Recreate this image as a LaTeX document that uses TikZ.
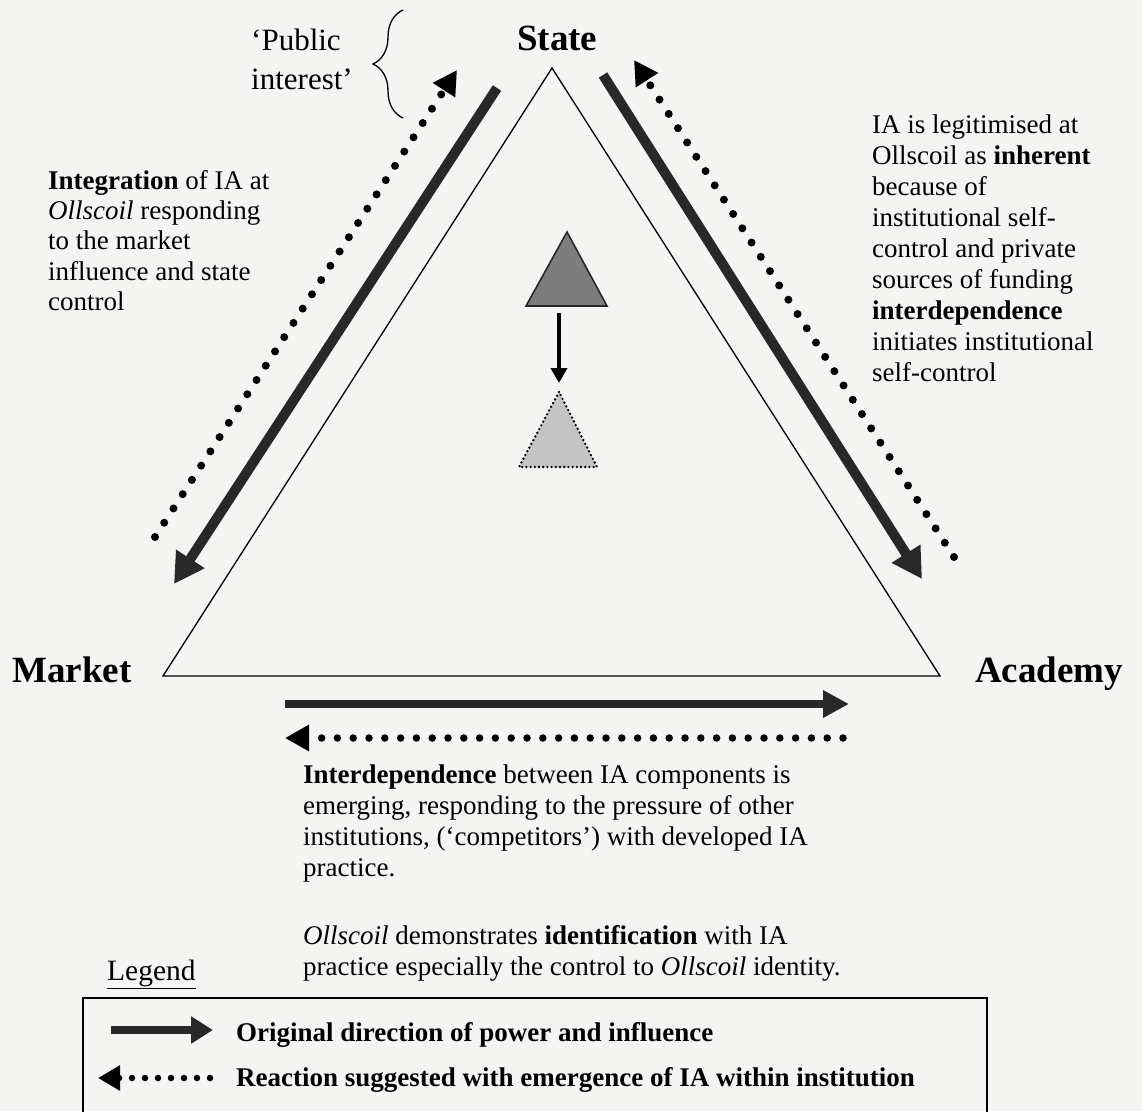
\documentclass[tikz,border=0pt]{standalone}
\usepackage{fontspec}
\setmainfont{Liberation Serif}
\usetikzlibrary{arrows.meta,decorations.pathreplacing}
\definecolor{paper}{RGB}{244,244,243}
\definecolor{ink}{RGB}{40,40,40}
\definecolor{darktri}{RGB}{125,125,125}
\definecolor{lighttri}{RGB}{196,196,196}

\begin{document}
\begin{tikzpicture}[x=1pt,y=-1pt,
  body/.style={font=\fontsize{27}{31}\selectfont, inner sep=0pt, align=left, anchor=north west},
  headlabel/.style={font=\fontsize{37}{42}\selectfont\bfseries, inner sep=0pt, anchor=base west},
  legtext/.style={font=\fontsize{27}{31}\selectfont\bfseries, inner sep=0pt, anchor=base west},
  power/.style={draw=ink, line width=10pt, -{Triangle[width=32pt,length=30pt]}},
  reaction/.style={draw=black, line width=8pt, line cap=round, dash pattern=on 0pt off 17pt,
                   -{Triangle[width=25pt,length=24pt]}},
]
\clip (0,0) rectangle (1142,1111);
\fill[paper] (0,0) rectangle (1142,1111);

% main triangle
\coordinate (apex) at (552,68);
\coordinate (vm) at (163,676);
\coordinate (va) at (940,676);
\draw[line width=1.3pt, line join=miter] (apex) -- (vm) -- (va) -- cycle;

% corner labels
\node[headlabel] (state) at (517,50) {State};
\node[headlabel] (market) at (12,682) {Market};
\node[headlabel] (academy) at (975,682) {Academy};

% public interest with brace
\node[font=\fontsize{31}{39}\selectfont, inner sep=0pt, align=left, anchor=north west]
  (public) at (251,23) {\strut ‘Public\\interest’};
\coordinate (brbot) at (403,118);
\coordinate (brtop) at (403,10);
\draw[line width=1.3pt, decorate, decoration={brace, amplitude=30pt}] (brbot) -- (brtop);

% side texts
\node[body, font=\fontsize{27}{30.3}\selectfont] (integ) at (48,167.8)
  {\strut\textbf{Integration} of IA at\\\textit{Ollscoil} responding\\to the market\\influence and state\\control};
\node[body] (legit) at (872,111.3)
  {\strut IA is legitimised at\\Ollscoil as \textbf{inherent}\\because of\\institutional self-\\control and private\\sources of funding\\\textbf{interdependence}\\initiates institutional\\self-control};

% left side arrows
\coordinate (ls0) at (497,88);  \coordinate (ls1) at (174,584);
\coordinate (ld0) at (155,537); \coordinate (ld1) at (457,70);
\draw[power] (ls0) -- (ls1);
\draw[reaction] (ld0) -- (ld1);

% right side arrows
\coordinate (rs0) at (603,75);  \coordinate (rs1) at (922,579);
\coordinate (rd0) at (954,557); \coordinate (rd1) at (634,60);
\draw[power] (rs0) -- (rs1);
\draw[reaction] (rd0) -- (rd1);

% base arrows
\coordinate (bs0) at (285,704); \coordinate (bs1) at (849,704);
\coordinate (bd0) at (843,738); \coordinate (bd1) at (285,738);
\draw[power, line width=8.5pt, -{Triangle[width=26pt,length=26pt]}] (bs0) -- (bs1);
\draw[reaction, line width=7.5pt, dash pattern=on 0pt off 15.8pt] (bd0) -- (bd1);

% inner triangles
\coordinate (ta) at (567,232); \coordinate (tb) at (526,306); \coordinate (tc) at (607,306);
\filldraw[fill=darktri, draw=ink, line width=1.6pt, line join=miter] (ta) -- (tb) -- (tc) -- cycle;
\coordinate (ua) at (559,392); \coordinate (ub) at (519,467); \coordinate (uc) at (597,467);
\filldraw[fill=lighttri, draw=black, line width=2.6pt, line cap=round, dash pattern=on 0pt off 4.2pt]
  (ua) -- (ub) -- (uc) -- cycle;
\coordinate (m0) at (559,313); \coordinate (m1) at (559,383);
\draw[draw=black, line width=4pt, -{Triangle[width=16pt,length=15pt]}] (m0) -- (m1);

% bottom texts
\node[body] (interdep) at (303,761.3)
  {\strut\textbf{Interdependence} between IA components is\\emerging, responding to the pressure of other\\institutions, (‘competitors’) with developed IA\\practice.};
\node[body] (ident) at (303,922.3)
  {\strut\textit{Ollscoil} demonstrates \textbf{identification} with IA\\practice especially the control to \textit{Ollscoil} identity.};

% legend
\node[font=\fontsize{29.5}{34}\selectfont, inner sep=0pt, anchor=base west] (legtitle) at (107,980) {\underline{Legend}};
\coordinate (lb0) at (83,998); \coordinate (lb1) at (987,1130);
\draw[line width=1.6pt] (lb0) rectangle (lb1);
\coordinate (lp0) at (111,1030); \coordinate (lp1) at (213,1030);
\draw[power, line width=8pt, -{Triangle[width=26pt,length=22pt]}] (lp0) -- (lp1);
\coordinate (lr0) at (210,1078); \coordinate (lr1) at (98,1078);
\draw[reaction, line width=6.5pt, dash pattern=on 0pt off 13pt, -{Triangle[width=24pt,length=22pt]}] (lr0) -- (lr1);
\node[legtext] (legpower) at (236,1041) {Original direction of power and influence};
\node[legtext] (legreact) at (236,1086) {Reaction suggested with emergence of IA within institution};
\end{tikzpicture}
\end{document}
